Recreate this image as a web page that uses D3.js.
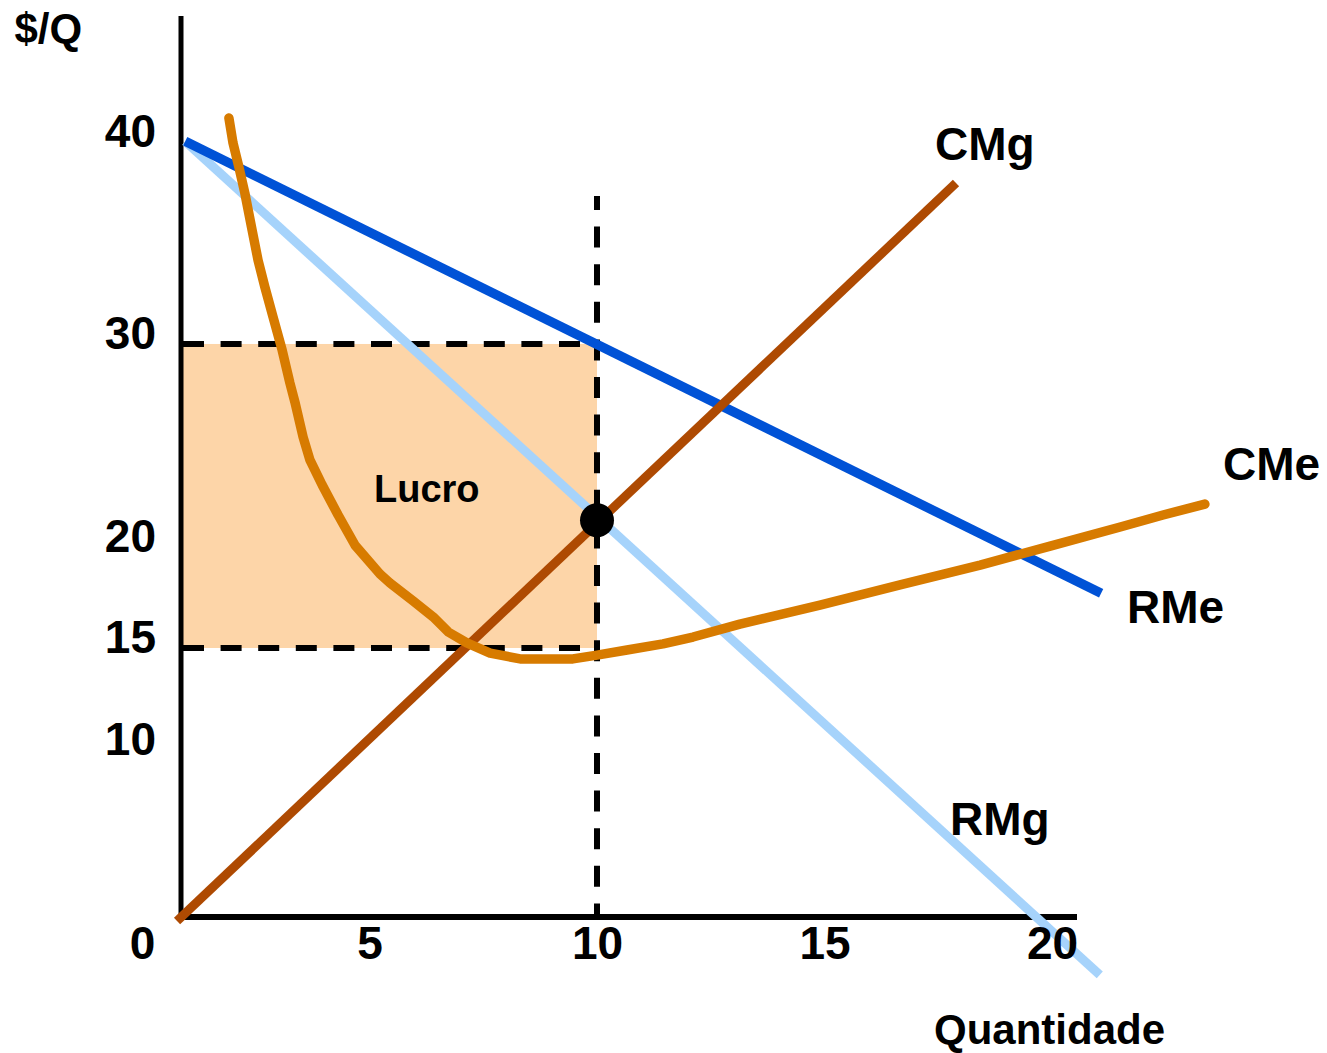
<!DOCTYPE html>
<html lang="pt">
<head>
<meta charset="utf-8">
<script src="https://cdn.jsdelivr.net/npm/d3@7"></script>
<style>
  html, body { margin: 0; padding: 0; background: #ffffff; }
  svg { display: block; font-family: "Liberation Sans", Arial, Helvetica, sans-serif; font-weight: bold; }
</style>
</head>
<body>
<svg id="chart" width="1327" height="1053"></svg>
<script>
// Tick labels on each axis
const xTicks = [0, 5, 10, 15, 20];
const yTicks = [10, 15, 20, 30, 40];

// Profit-maximising output, price and average cost that bound the profit area
const qStar = 10;
const priceStar = 30;
const costStar = 15;
const mcAtQStar = 21.3;
const guideTop = 37.3;

// Demand / average revenue (RMe)
const rmeQ = [0.95, 21.08];
const rmeP = [40.0, 17.7];
// Marginal revenue (RMg)
const rmgQ = [0.95, 21.05];
const rmgP = [40.0, -1.13];
// Marginal cost (CMg)
const cmgQ = [0.77, 17.89];
const cmgP = [1.53, 37.94];
// Average cost (CMe), U-shaped
const cmeQ = [1.91, 2.00, 2.13, 2.26, 2.42, 2.55, 2.70, 2.88, 3.08, 3.25, 3.36, 3.54, 3.69, 3.96,
              4.31, 4.68, 5.23, 5.45, 5.96, 6.40, 6.73, 7.14, 7.65, 8.31, 9.47, 10.00, 10.66, 11.45,
              12.11, 13.14, 14.90, 16.66, 18.42, 19.96, 21.50, 22.44, 23.36];
const cmeP = [41.15, 39.92, 38.73, 37.45, 35.62, 34.14, 32.81, 31.33, 29.70, 28.08, 27.14, 25.41, 24.28, 23.04,
              21.56, 20.08, 18.65, 18.21, 17.32, 16.53, 15.79, 15.25, 14.75, 14.46, 14.46, 14.65, 14.90, 15.20,
              15.54, 16.18, 17.12, 18.11, 19.09, 20.03, 20.97, 21.56, 22.10];

const toPoints = (qs, ps) => qs.map((q, i) => ({ q, p: ps[i] }));

// Layout of the drawn axis frame
const frame = { left: 181, bottom: 917, top: 16, right: 1077 };

const svg = d3.select("#chart");

const x = d3.scaleLinear().domain([0, 20]).range([142, 1052]);
const y = d3.scaleLinear().domain([0, 40]).range([952, 141.3]);

const line = d3.line().x(d => x(d.q)).y(d => y(d.p));

// Profit rectangle (Lucro)
svg.append("rect")
  .attr("x", frame.left)
  .attr("y", y(priceStar))
  .attr("width", x(qStar) - frame.left)
  .attr("height", y(costStar) - y(priceStar))
  .attr("fill", "#fdd5a8");

// Axis lines
svg.append("line")
  .attr("x1", frame.left).attr("x2", frame.left)
  .attr("y1", frame.top).attr("y2", frame.bottom)
  .attr("stroke", "#000").attr("stroke-width", 5);
svg.append("line")
  .attr("x1", frame.left - 2).attr("x2", frame.right)
  .attr("y1", frame.bottom).attr("y2", frame.bottom)
  .attr("stroke", "#000").attr("stroke-width", 6);

// Dashed guides
const guides = svg.append("g")
  .attr("stroke", "#000").attr("stroke-width", 6)
  .attr("stroke-dasharray", "21 16.6");
[priceStar, costStar].forEach(v => {
  guides.append("line")
    .attr("x1", frame.left + 2).attr("x2", x(qStar))
    .attr("y1", y(v)).attr("y2", y(v));
});
guides.append("line")
  .attr("x1", x(qStar)).attr("x2", x(qStar))
  .attr("y1", y(guideTop)).attr("y2", frame.bottom)
  .attr("stroke-dashoffset", 7);

// Curves
svg.append("path").datum(toPoints(rmgQ, rmgP))
  .attr("d", line).attr("fill", "none")
  .attr("stroke", "#a6d3fb").attr("stroke-width", 9);

svg.append("path").datum(toPoints(rmeQ, rmeP))
  .attr("d", line).attr("fill", "none")
  .attr("stroke", "#0052d6").attr("stroke-width", 9.5);

svg.append("path").datum(toPoints(cmgQ, cmgP))
  .attr("d", line).attr("fill", "none")
  .attr("stroke", "#ae4a02").attr("stroke-width", 9);

svg.append("path").datum(toPoints(cmeQ, cmeP))
  .attr("d", line).attr("fill", "none")
  .attr("stroke", "#d77b00").attr("stroke-width", 9.5)
  .attr("stroke-linecap", "round").attr("stroke-linejoin", "round");

// Equilibrium point where RMg = CMg
svg.append("circle")
  .attr("cx", x(qStar)).attr("cy", y(mcAtQStar))
  .attr("r", 17).attr("fill", "#000");

// Tick labels
const xAxisG = svg.append("g")
  .attr("transform", `translate(0, ${frame.bottom})`)
  .call(d3.axisBottom(x).tickValues(xTicks).tickSize(0).tickPadding(0));
xAxisG.select(".domain").remove();
xAxisG.attr("font-family", null).attr("font-size", null);
xAxisG.selectAll("text")
  .attr("y", 42).attr("dy", null)
  .attr("fill", "#000")
  .style("font-size", "46px").style("font-weight", "bold");

const yAxisG = svg.append("g")
  .attr("transform", "translate(156, 0)")
  .call(d3.axisLeft(y).tickValues(yTicks).tickSize(0).tickPadding(0));
yAxisG.select(".domain").remove();
yAxisG.attr("font-family", null).attr("font-size", null);
yAxisG.selectAll("text")
  .attr("dy", 5)
  .attr("fill", "#000")
  .style("font-size", "46px").style("font-weight", "bold");

// Text annotations
const labels = [
  { text: "$/Q",        x: 14.5, y: 43,   size: 42 },
  { text: "Quantidade", x: 934,  y: 1044, size: 42 },
  { text: "CMg",        x: 935,  y: 160,  size: 46 },
  { text: "CMe",        x: 1223, y: 480,  size: 46 },
  { text: "RMe",        x: 1127, y: 623,  size: 46 },
  { text: "RMg",        x: 950,  y: 835,  size: 46 },
  { text: "Lucro",      x: 374,  y: 502,  size: 38 }
];
svg.append("g").selectAll("text").data(labels).join("text")
  .attr("x", d => d.x).attr("y", d => d.y)
  .attr("fill", "#000")
  .style("font-size", d => d.size + "px")
  .style("font-weight", "bold")
  .text(d => d.text);
</script>
</body>
</html>
